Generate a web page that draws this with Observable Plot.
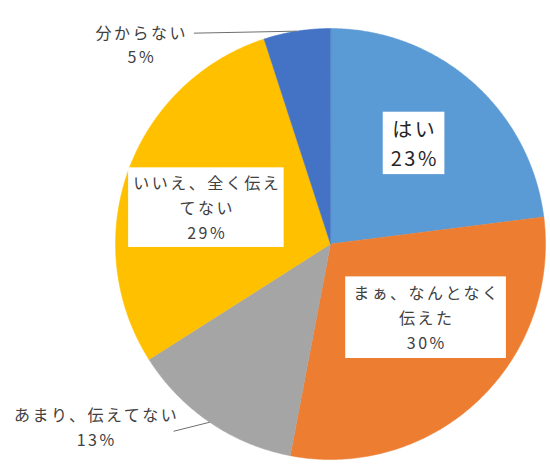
<!DOCTYPE html>
<html><head><meta charset="utf-8">
<script src="https://cdn.jsdelivr.net/npm/d3@7"></script>
<script src="https://cdn.jsdelivr.net/npm/@observablehq/plot@0.6"></script>
<style>body{margin:0;background:#fff} #chart svg{display:block}</style>
</head><body><div id="chart"></div>
<script>
const categories = ["はい", "まぁ、なんとなく伝えた", "あまり、伝えてない", "いいえ、全く伝えてない", "分からない"];
const percents = [23, 30, 13, 29, 5];
const colors = ["#5B9BD5", "#ED7D31", "#A5A5A5", "#FFC000", "#4472C4"];
const labelTexts = ["はい\n23%", "まぁ、なんとなく\n伝えた\n30%", "あまり、伝えてない\n13%", "いいえ、全く伝え\nてない\n29%", "分からない\n5%"];

const W = 550, H = 470, mL = 115, mR = 5, mT = 28, mB = 11;
const R = (W - mL - mR) / 2;

const arcs = d3.pie().sort(null).value(d => d)(percents);
const pt = (a, r) => ({x: Math.sin(a) * r, y: Math.cos(a) * r});
const mid = a => (a.startAngle + a.endAngle) / 2;

const slices = arcs.map((a, i) => {
  const n = Math.max(4, Math.ceil((a.endAngle - a.startAngle) / (Math.PI / 360)));
  const pts = [{...pt(0, 0), cat: categories[i]}];
  for (let k = 0; k <= n; k++) {
    const t = a.startAngle + (a.endAngle - a.startAngle) * k / n;
    pts.push({...pt(t, 1), cat: categories[i]});
  }
  return pts;
});

// label layout (radial fraction + pixel nudges)
const inside = [
  {i: 0, f: 0.6, dx: -1, dy: -5, size: 20, lh: 1.47, color: "#262626"},
  {i: 1, f: 0.6, dx: 8, dy: -22, size: 16, lh: 1.55, color: "#404040"},
  {i: 3, f: 0.6, dx: -2, dy: 6, size: 16, lh: 1.55, color: "#404040"}
];
const outside = [
  {i: 4, dx: -155, dy: 12.5, lx: -103, ly: 2, size: 16, lh: 1.45},
  {i: 2, dx: -113, dy: 3.5, lx: -36, ly: 9, size: 16, lh: 1.55}
];

const marks = [];
slices.forEach((s, i) => marks.push(Plot.line(s, {x: "x", y: "y", fill: colors[i], stroke: colors[i], strokeWidth: 0.5, curve: "linear-closed"})));
inside.forEach(L => {
  const p = pt(mid(arcs[L.i]), L.f);
  marks.push(Plot.text([{...p, t: labelTexts[L.i]}], {x: "x", y: "y", text: "t", dx: L.dx, dy: L.dy, fontSize: L.size, lineHeight: L.lh, fill: L.color, lineAnchor: "middle", textAnchor: "middle"}));
});
outside.forEach(L => {
  const p = pt(mid(arcs[L.i]), 1);
  marks.push(Plot.link([{x1: p.x, y1: p.y, x2: p.x + L.lx / R, y2: p.y - L.ly / R}], {x1: "x1", y1: "y1", x2: "x2", y2: "y2", stroke: "#6f6f6f", strokeWidth: 1}));
  marks.push(Plot.text([{...p, t: labelTexts[L.i]}], {x: "x", y: "y", text: "t", dx: L.dx, dy: L.dy, fontSize: L.size, lineHeight: L.lh, fill: "#404040", lineAnchor: "middle", textAnchor: "middle"}));
});

const chart = Plot.plot({
  width: W, height: H,
  marginLeft: mL, marginRight: mR, marginTop: mT, marginBottom: mB,
  x: {domain: [-1, 1], axis: null},
  y: {domain: [-1, 1], axis: null},
  style: {fontFamily: "'Noto Sans CJK JP', 'Noto Sans', sans-serif", letterSpacing: "2.5px", background: "#fff", overflow: "visible"},
  marks
});
document.getElementById("chart").appendChild(chart);

// white boxes behind inside labels
const svgRect = chart.getBoundingClientRect();
const textGroups = chart.querySelectorAll('g[aria-label="text"]');
const pads = [[8, 2], [8, 4], [5, 3]];
inside.forEach((L, k) => {
  const g = textGroups[k];
  const b = g.getBoundingClientRect();
  const [px, py] = pads[k];
  const r = document.createElementNS("http://www.w3.org/2000/svg", "rect");
  r.setAttribute("x", b.left - svgRect.left - px);
  r.setAttribute("y", b.top - svgRect.top - py);
  r.setAttribute("width", b.width + 2 * px - 2.5);
  r.setAttribute("height", b.height + 2 * py);
  r.setAttribute("fill", "#fff");
  g.parentNode.insertBefore(r, g);
});
</script></body></html>
